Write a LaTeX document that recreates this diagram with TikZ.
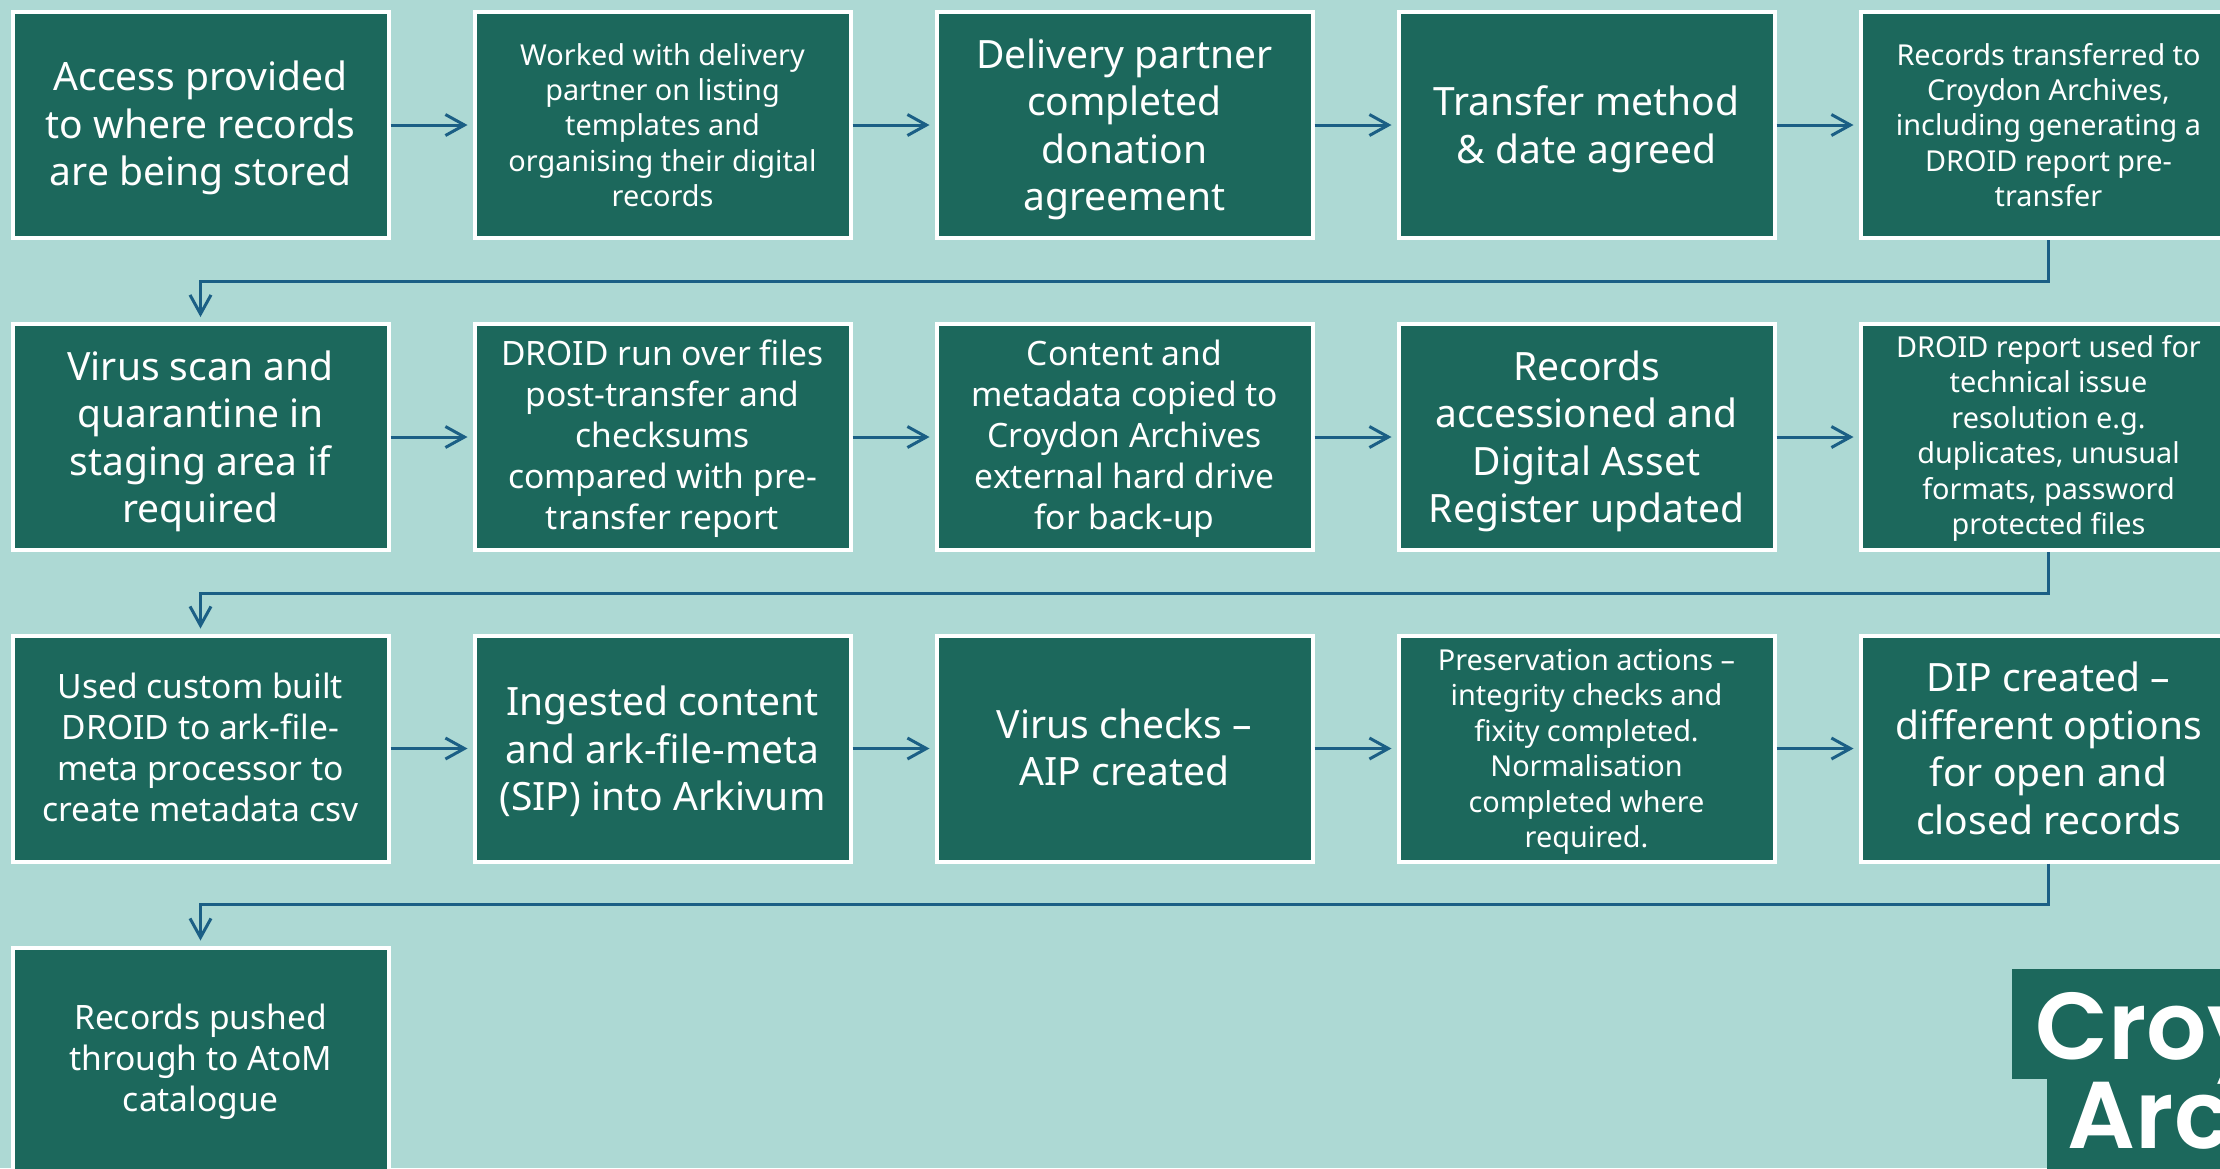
\documentclass[tikz,border=0pt]{standalone}
\usepackage{fontspec}
\setmainfont{Noto Sans}
\newfontfamily\logofont[UprightFont=* SemiBold]{Poppins}
\usetikzlibrary{arrows.meta}
\definecolor{pagegreen}{HTML}{ADD9D4}
\definecolor{boxgreen}{HTML}{1C685C}
\definecolor{linkblue}{HTML}{1B5F85}
\newcommand{\dropby}[1]{\rule{0pt}{#1}}
\tikzset{
  stepbox/.style={draw=white, fill=boxgreen, text=white, line width=0.04cm,
    minimum width=3.76cm, minimum height=2.26cm, align=center, inner sep=0pt},
  bigstep/.style={stepbox, font=\fontsize{11.1}{13.5}\selectfont},
  midstep/.style={stepbox, font=\fontsize{9.55}{11.66}\selectfont},
  smallstep/.style={stepbox, font=\fontsize{8.2}{10.07}\selectfont},
  lift/.style={execute at end node={\rule[-#1]{0pt}{0pt}}},
  link/.style={draw=linkblue, line width=0.03cm, shorten >=0.05cm,
    -{Straight Barb[length=0.19cm, width=0.21cm, line width=0.03cm]}},
  logotext/.style={text=white, anchor=base west, inner sep=0pt,
    font=\logofont\fontsize{27}{32}\selectfont}
}
\begin{document}
\begin{tikzpicture}
  \fill[pagegreen] (0,0) rectangle (22.2,-11.68);
  \useasboundingbox (0,0) rectangle (22.2,-11.68);
  \draw
    (2.005,-1.25) node[bigstep] (a1){\dropby{0.354cm}Access provided\\to where records\\are being stored}
    (6.625,-1.25) node[smallstep] (a2){Worked with delivery\\partner on listing\\templates and\\organising their digital\\records}
    (11.245,-1.25) node[bigstep] (a3){\dropby{0.38cm}Delivery partner\\completed\\donation\\agreement}
    (15.865,-1.25) node[bigstep] (a4){\dropby{0.38cm}Transfer method\\\& date agreed}
    (20.485,-1.25) node[smallstep] (a5){Records transferred to\\Croydon Archives,\\including generating a\\DROID report pre-\\transfer}
    (2.005,-4.37) node[bigstep] (b1){\dropby{0.38cm}Virus scan and\\quarantine in\\staging area if\\required}
    (6.625,-4.37) node[midstep] (b2){\dropby{0.283cm}DROID run over files\\post-transfer and\\checksums\\compared with pre-\\transfer report}
    (11.245,-4.37) node[midstep] (b3){\dropby{0.283cm}Content and\\metadata copied to\\Croydon Archives\\external hard drive\\for back-up}
    (15.865,-4.37) node[bigstep] (b4){\dropby{0.38cm}Records\\accessioned and\\Digital Asset\\Register updated}
    (20.485,-4.37) node[smallstep] (b5){\dropby{0.248cm}DROID report used for\\technical issue\\resolution e.g.\\duplicates, unusual\\formats, password\\protected files}
    (2.005,-7.485) node[midstep, lift=0.028cm] (c1){Used custom built\\DROID to ark-file-\\meta processor to\\create metadata csv}
    (6.625,-7.485) node[bigstep] (c2){\dropby{0.354cm}Ingested content\\and ark-file-meta\\(SIP) into Arkivum}
    (11.245,-7.485) node[bigstep, lift=0.028cm] (c3){Virus checks --\\AIP created}
    (15.865,-7.485) node[smallstep] (c4){\dropby{0.277cm}Preservation actions --\\integrity checks and\\fixity completed.\\Normalisation\\completed where\\required.}
    (20.485,-7.485) node[bigstep] (c5){DIP created --\\different options\\for open and\\closed records}
    (2.005,-10.605) node[midstep] (d1){\dropby{0.283cm}Records pushed\\through to AtoM\\catalogue};
  \begin{scope}[link]
    \draw (a1) to (a2);
    \draw (a2) to (a3);
    \draw (a3) to (a4);
    \draw (a4) to (a5);
    \draw (b1) to (b2);
    \draw (b2) to (b3);
    \draw (b3) to (b4);
    \draw (b4) to (b5);
    \draw (c1) to (c2);
    \draw (c2) to (c3);
    \draw (c3) to (c4);
    \draw (c4) to (c5);
    \draw (a5.south) -- ++(0,-0.41) -| (b1.north);
    \draw (b5.south) -- ++(0,-0.41) -| (c1.north);
    \draw (c5.south) -- ++(0,-0.41) -| (d1.north);
  \end{scope}
  \fill[boxgreen] (20.12,-9.69) rectangle (22.3,-10.79);
  \fill[boxgreen] (20.47,-10.79) rectangle (22.3,-11.78);
  \node[logotext] (logo1) at (20.35,-10.59) {Croy};
  \node[logotext] (logo2) at (20.67,-11.48) {Arc};
\end{tikzpicture}
\end{document}
